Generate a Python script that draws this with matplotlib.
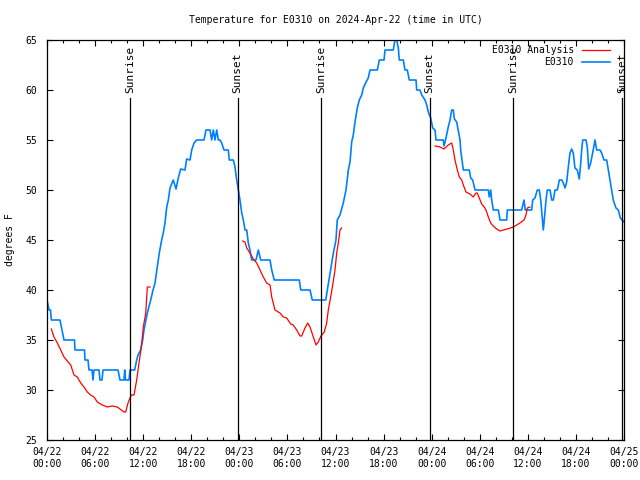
import matplotlib.pyplot as plt
from matplotlib.ticker import MultipleLocator

plt.rcParams['font.family'] = 'DejaVu Sans Mono'
plt.rcParams['font.size'] = 7

# hours since 2024-04-22 00:00 UTC
obs_hours = [0.0, 0.12, 0.25, 0.44, 0.54, 1.62, 1.87, 2.12, 3.43, 3.49, 4.68, 4.74, 5.12, 5.24, 5.62, 5.74,
             5.86, 6.49, 6.61, 6.86, 6.99, 8.86, 9.11, 9.61, 9.70, 9.80, 10.23, 10.36, 10.94, 11.19, 11.36,
             11.69, 11.94, 12.10, 12.52, 12.94, 13.23, 13.48, 13.76, 14.01, 14.31, 14.51, 14.72, 14.94,
             15.14, 15.35, 15.76, 16.10, 16.38, 16.68, 17.22, 17.43, 17.84, 18.06, 18.34, 18.68, 19.59,
             19.84, 20.34, 20.55, 20.75, 20.96, 21.18, 21.38, 21.59, 21.80, 22.09, 22.62, 22.75, 23.25,
             23.46, 23.67, 23.87, 24.08, 24.30, 24.50, 24.71, 24.92, 25.12, 25.33, 25.54, 26.08, 26.37,
             26.67, 27.83, 28.04, 28.36, 31.48, 31.66, 32.82, 33.10, 34.78, 34.98, 35.23, 35.44, 35.73,
             36.06, 36.22, 36.56, 36.97, 37.31, 37.60, 37.81, 38.02, 38.22, 38.43, 38.72, 38.97, 39.27,
             39.47, 39.81, 40.09, 40.30, 41.22, 41.47, 42.05, 42.18, 43.21, 43.42, 43.64, 43.84, 43.96,
             44.46, 44.67, 44.96, 45.21, 46.05, 46.13, 46.54, 46.76, 47.17, 47.38, 47.58, 47.88, 48.13,
             48.42, 48.54, 49.45, 49.54, 49.79, 50.07, 50.29, 50.50, 50.70, 50.83, 51.12, 51.54, 51.62,
             51.78, 51.95, 52.70, 52.87, 53.12, 53.41, 55.07, 55.19, 55.37, 55.49, 55.69, 56.32, 56.53,
             57.36, 57.44, 59.23, 59.52, 59.68, 60.48, 60.61, 60.89, 61.18, 61.43, 61.61, 61.77, 61.93,
             62.11, 62.27, 62.43, 62.77, 62.98, 63.18, 63.39, 63.68, 63.93, 64.23, 64.43, 64.64, 64.85,
             65.05, 65.26, 65.47, 65.67, 65.88, 66.17, 66.42, 66.60, 66.72, 66.85, 67.26, 67.42, 67.60,
             67.84, 68.09, 68.38, 68.59, 69.00, 69.21, 69.50, 69.84, 70.04, 70.25, 70.46, 70.66, 71.00,
             71.29, 71.55, 72.0]
obs_temp = [39, 38.5, 38, 38, 37, 37, 36, 35, 35, 34, 34, 33, 33, 32, 32, 31,
            32, 32, 31, 31, 32, 32, 31, 31, 32, 31, 31, 32, 32, 33, 33.5,
            34, 35, 36, 37.7, 39, 40, 40.7, 42.3, 43.7, 45, 45.7, 46.7, 48.3,
            49, 50.2, 51, 50.1, 51.2, 52.1, 52, 53.1, 53, 54, 54.7, 55, 55,
            56, 56, 55, 56, 55, 56, 55, 55, 54.7, 54, 54, 53, 53,
            52.3, 51, 50, 49, 47.7, 47, 46, 46, 44.7, 44, 43, 43, 44,
            43, 43, 42, 41, 41, 40, 40, 39, 39, 40, 41.3, 42.3, 43.7,
            45, 47, 47.5, 48.7, 50, 52, 52.8, 54.8, 55.5, 56.8, 58.2, 59, 59.5,
            60.2, 60.8, 61.2, 62, 62, 63, 63, 64, 64, 65, 65, 64.2, 63,
            63, 62, 62, 61, 61, 60, 60, 59.5, 59, 58.5, 57.8, 57.2, 56.2,
            56, 55, 55, 54.4, 55.2, 56.3, 57, 58, 58, 57.1, 56.8, 55, 54,
            53, 52, 52, 51.2, 51, 50, 50, 49.3, 50, 49, 48, 48, 47,
            47, 48, 48, 49, 48, 48, 49, 49.2, 50, 50, 49, 47.5, 46,
            47.5, 49, 50, 50, 49, 49, 50, 50, 51, 51, 50.7, 50.2, 50.8,
            52.3, 53.7, 54.1, 53.7, 52.2, 52, 51.1, 52.7, 54, 55, 55, 54.3, 52.1,
            52.7, 53.7, 55, 54, 54, 53.7, 53, 53, 52, 51, 50, 49, 48.2,
            48, 47.2, 46.8]

ana1_hours = [0.54, 0.87, 1.29, 1.71, 2.12, 2.53, 2.96, 3.37, 3.78, 4.21, 4.62, 5.03, 5.45, 5.86, 6.28,
              6.90, 7.52, 8.15, 8.77, 9.27, 9.61, 9.82, 10.11, 10.52, 10.86, 11.19, 11.48, 11.77, 12.02,
              12.32, 12.52, 12.85]
ana1_temp = [36.1, 35.3, 34.7, 34, 33.3, 32.9, 32.5, 31.5, 31.3, 30.7, 30.3, 29.8, 29.5, 29.3, 28.8,
             28.5, 28.3, 28.4, 28.3, 28, 27.8, 27.8, 28.7, 29.5, 29.5, 31, 32.7, 34.3, 36.3,
             37.7, 40.3, 40.3]
ana2_hours = [24.42, 24.71, 24.92, 25.33, 25.74, 26.17, 26.58, 26.99, 27.41, 27.83, 28.04, 28.45, 29.07,
              29.49, 29.91, 30.41, 30.73, 31.16, 31.57, 31.78, 32.19, 32.53, 32.82, 33.23, 33.57, 33.85,
              34.19, 34.60, 34.90, 35.10, 35.40, 35.65, 35.94, 36.15, 36.35, 36.56, 36.77]
ana2_temp = [44.9, 44.8, 44.2, 43.7, 43.1, 42.7, 42, 41.3, 40.7, 40.5, 39.3, 38, 37.7,
             37.3, 37.2, 36.6, 36.5, 36, 35.4, 35.4, 36.2, 36.7, 36.3, 35.3, 34.5, 34.8,
             35.4, 35.8, 36.7, 38, 39.3, 40.5, 42, 43.7, 44.7, 46, 46.2]
ana3_hours = [48.42, 49.04, 49.54, 50.07, 50.50, 50.70, 50.91, 51.20, 51.45, 51.75, 51.95, 52.28, 52.78,
              53.19, 53.53, 53.69, 53.94, 54.24, 54.65, 54.87, 55.07, 55.37, 55.69, 56.11, 56.53, 56.94,
              57.44, 58.19, 58.61, 59.02, 59.52, 59.77, 59.93, 60.27]
ana3_temp = [54.4, 54.3, 54.1, 54.5, 54.7, 54, 53, 52, 51.3, 51, 50.5, 49.8, 49.6,
             49.3, 49.7, 49.7, 49.2, 48.6, 48.2, 47.8, 47.3, 46.7, 46.4, 46.1, 45.9, 46,
             46.1, 46.3, 46.5, 46.7, 47, 47.5, 48.2, 48.3]

sunrise_hours = [10.4, 34.25, 58.2]
sunset_hours = [23.8, 47.75, 71.8]

xtick_hours = list(range(0, 73, 6))
xtick_labels = ["04/22\n00:00", "04/22\n06:00", "04/22\n12:00", "04/22\n18:00",
                "04/23\n00:00", "04/23\n06:00", "04/23\n12:00", "04/23\n18:00",
                "04/24\n00:00", "04/24\n06:00", "04/24\n12:00", "04/24\n18:00",
                "04/25\n00:00"]

fig = plt.figure(figsize=(6.4, 4.8), dpi=100)
ax = fig.add_axes([47/640, 40/480, 577/640, 400/480])

ax.plot(obs_hours, obs_temp, color='#0080ff', lw=1.2)
for hrs, tmp in [(ana1_hours, ana1_temp), (ana2_hours, ana2_temp), (ana3_hours, ana3_temp)]:
    ax.plot(hrs, tmp, color='#ff0000', lw=0.9)

# sunrise / sunset markers
line_top = (59.2 - 25) / 40
for h in sunrise_hours:
    ax.axvline(h, ymin=0, ymax=line_top, color='black', lw=0.9)
    ax.text(h, 59.7, "Sunrise", rotation=90, ha='center', va='bottom', fontsize=8)
for h in sunset_hours:
    ax.axvline(h, ymin=0, ymax=line_top, color='black', lw=0.9)
    ax.text(h, 59.7, "Sunset", rotation=90, ha='center', va='bottom', fontsize=8)

ax.set_xlim(0, 72)
ax.set_ylim(25, 65)
ax.set_xticks(xtick_hours)
ax.set_xticklabels(xtick_labels)
ax.xaxis.set_minor_locator(MultipleLocator(2))
ax.set_yticks(range(25, 66, 5))
ax.tick_params(which='both', direction='in', top=True, right=True, width=0.8)
ax.tick_params(which='major', length=4)
ax.tick_params(which='minor', length=2)
ax.tick_params(axis='x', pad=5)
ax.tick_params(axis='y', pad=7)
for s in ax.spines.values():
    s.set_linewidth(0.9)

ax.text(0.5, 1.05, "Temperature for E0310 on 2024-Apr-22 (time in UTC)",
        transform=ax.transAxes, ha='center', va='center')
fig.text(10/640, 0.5, "degrees F", rotation=90, ha='center', va='center')

# gnuplot-style key: text right-aligned, sample line after it
ax.text(0.913, 0.975, "E0310 Analysis", transform=ax.transAxes, ha='right', va='center')
ax.plot([0.927, 0.976], [0.975, 0.975], transform=ax.transAxes, color='#ff0000', lw=0.9)
ax.text(0.913, 0.945, "E0310", transform=ax.transAxes, ha='right', va='center')
ax.plot([0.927, 0.976], [0.945, 0.945], transform=ax.transAxes, color='#0080ff', lw=1.2)

fig.savefig("out.png", dpi=100)
